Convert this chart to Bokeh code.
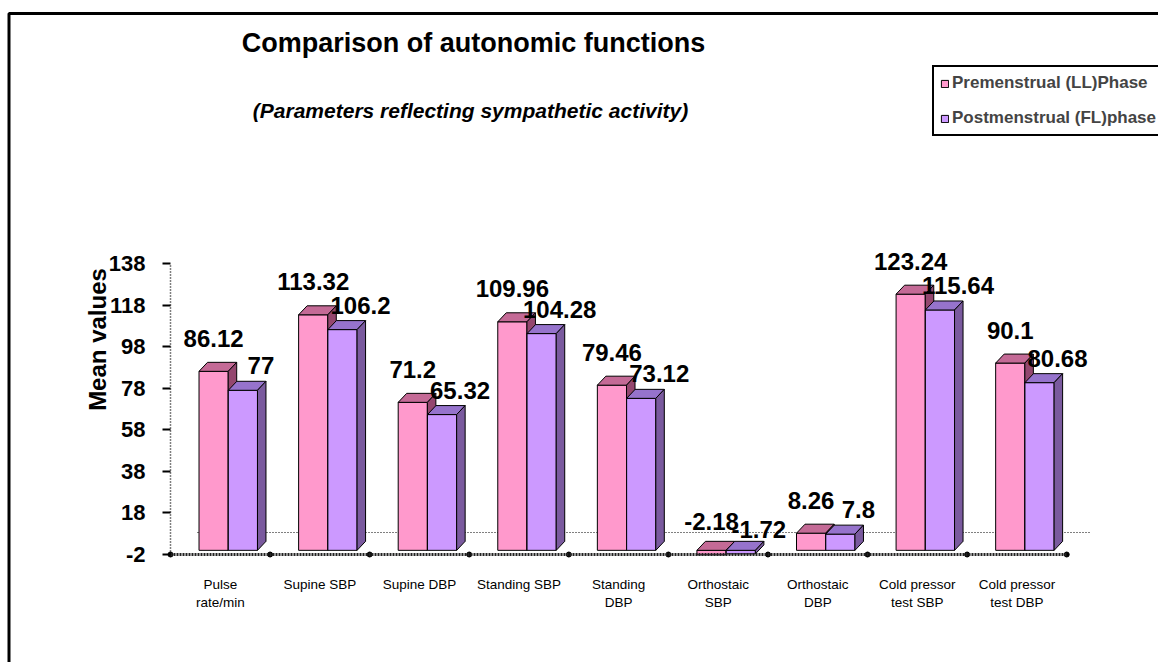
import math
from bokeh.plotting import figure
from bokeh.models import (Range1d, FixedTicker, Legend, LegendItem, Label,
                          BoxAnnotation)
from bokeh.core.properties import value
from bokeh.embed import file_html
from bokeh.resources import INLINE

# ---------------- data ----------------
categories = ["Pulse\nrate/min", "Supine SBP", "Supine DBP", "Standing SBP",
              "Standing\nDBP", "Orthostaic\nSBP", "Orthostaic\nDBP",
              "Cold pressor\ntest SBP", "Cold pressor\ntest DBP"]
premenstrual = [86.12, 113.32, 71.2, 109.96, 79.46, -2.18, 8.26, 123.24, 90.1]
postmenstrual = [77, 106.2, 65.32, 104.28, 73.12, -1.72, 7.8, 115.64, 80.68]
series_names = ["Premenstrual (LL)Phase", "Postmenstrual (FL)phase"]
y_ticks = [-2, 18, 38, 58, 78, 98, 118, 138]
title_text = "Comparison of autonomic functions"
subtitle_text = "(Parameters reflecting sympathetic activity)"
y_label_text = "Mean values"

# ---------------- layout / style ----------------
FONT = "Liberation Sans"
W, H = 1158, 662
PX_PER_X = 99.58          # pixels per category group
PX_PER_Y = 2.07857        # pixels per value unit
X0_PX, Y0_PX = 170, 554   # canvas position of data point (0, y_ticks[0])
Y_BASE = y_ticks[0]

X_START = -X0_PX / PX_PER_X
X_END = (W - X0_PX) / PX_PER_X
Y_START = Y_BASE - (H - Y0_PX) / PX_PER_Y
Y_END = Y_BASE + Y0_PX / PX_PER_Y


def page_x(px):
    return (px - X0_PX) / PX_PER_X


def page_y(py):
    return Y_BASE + (Y0_PX - py) / PX_PER_Y


BAR_W = 0.293
PINK_OFF, PURP_OFF = 0.433, 0.727
DX = 8.5 / PX_PER_X
DY = 9.0 / PX_PER_Y

PINK = dict(front="#FF99CC", top="#C46A96", side="#94476F")
PURP = dict(front="#CC99FF", top="#9673CC", side="#7A5A9E")

p = figure(width=W, height=H, x_range=Range1d(X_START, X_END),
           y_range=Range1d(Y_START, Y_END), output_backend="svg",
           toolbar_location=None, min_border=0)
p.outline_line_color = None
p.background_fill_color = "white"
p.border_fill_color = "white"
p.xgrid.visible = False
p.ygrid.visible = False

# outer frame of the chart area (left and top edges visible)
p.add_layout(BoxAnnotation(left=page_x(8.5), right=X_END + 5,
                           top=page_y(13), bottom=Y_START - 20,
                           fill_color=None, fill_alpha=0,
                           line_color="black", line_alpha=1, line_width=3))

# back floor dotted line
p.segment(x0=[page_x(197)], y0=[page_y(532)], x1=[page_x(1091)],
          y1=[page_y(532)], line_color="black", line_width=1,
          line_dash="1 2")


def draw_series(vals, off, col):
    xs_c = [i + off for i in range(len(vals))]
    tops = [max(v, 0) for v in vals]
    bots = [min(v, 0) for v in vals]
    r = p.vbar(x=xs_c, width=BAR_W, top=tops, bottom=bots,
               fill_color=col["front"], line_color="black", line_width=1)
    top_xs, top_ys, side_xs, side_ys = [], [], [], []
    for xc, t, b in zip(xs_c, tops, bots):
        x0, x1 = xc - BAR_W / 2, xc + BAR_W / 2
        top_xs.append([x0, x1, x1 + DX, x0 + DX])
        top_ys.append([t, t, t + DY, t + DY])
        side_xs.append([x1, x1, x1 + DX, x1 + DX])
        side_ys.append([b, t, t + DY, b + DY])
    p.patches(top_xs, top_ys, fill_color=col["top"], line_color="black",
              line_width=1)
    p.patches(side_xs, side_ys, fill_color=col["side"], line_color="black",
              line_width=1)
    return r, xs_c


r_pink, pink_x = draw_series(premenstrual, PINK_OFF, PINK)
r_purp, purp_x = draw_series(postmenstrual, PURP_OFF, PURP)

# group boundary dots on the floor
p.scatter(x=list(range(len(categories) + 1)),
          y=[Y_BASE] * (len(categories) + 1), size=5, color="black")

# value labels
p.text(x=pink_x, y=[v + 33 / PX_PER_Y for v in premenstrual],
       text=[f"{v:g}" for v in premenstrual], text_font=value(FONT),
       text_font_style="bold", text_font_size="24px", text_align="center",
       text_baseline="middle", text_color="black")
p.text(x=[x + 18 / PX_PER_X for x in purp_x],
       y=[v + 24.5 / PX_PER_Y for v in postmenstrual],
       text=[f"{v:g}" for v in postmenstrual], text_font=value(FONT),
       text_font_style="bold", text_font_size="24px", text_align="center",
       text_baseline="middle", text_color="black")

# y axis
ya = p.yaxis[0]
ya.fixed_location = 0
ya.ticker = FixedTicker(ticks=y_ticks)
ya.major_label_overrides = {t: str(t) for t in y_ticks}
ya.bounds = (y_ticks[0], y_ticks[-1])
ya.minor_tick_line_color = None
ya.major_tick_in = 0
ya.major_tick_out = 8
ya.major_tick_line_width = 2
ya.major_tick_line_color = "black"
ya.axis_line_color = "black"
ya.axis_line_dash = "1 2"
ya.axis_line_width = 1.5
ya.major_label_standoff = 17
ya.major_label_text_font = FONT
ya.major_label_text_font_style = "bold"
ya.major_label_text_font_size = "22px"
ya.major_label_text_color = "black"

# x axis (category labels at group centres)
xa = p.xaxis[0]
xa.fixed_location = Y_BASE
centres = [i + 0.5 for i in range(len(categories))]
xa.ticker = FixedTicker(ticks=centres)
xa.major_label_overrides = {c: lab for c, lab in zip(centres, categories)}
xa.bounds = (0, len(categories))
xa.minor_tick_line_color = None
xa.major_tick_in = 0
xa.major_tick_out = 0
xa.axis_line_color = "#222222"
xa.axis_line_width = 3
xa.axis_line_dash = "2 1"
xa.major_label_standoff = 22
xa.major_label_text_font = FONT
xa.major_label_text_font_size = "13.5px"
xa.major_label_text_color = "black"

# titles
p.add_layout(Label(x=page_x(473), y=page_y(42), text=title_text,
                   text_font=FONT, text_font_style="bold",
                   text_font_size="27px", text_align="center",
                   text_baseline="middle", text_color="black"))
p.add_layout(Label(x=page_x(470), y=page_y(110), text=subtitle_text,
                   text_font=FONT, text_font_style="bold italic",
                   text_font_size="21px", text_align="center",
                   text_baseline="middle", text_color="black"))
p.add_layout(Label(x=page_x(97), y=page_y(339), text=y_label_text,
                   angle=math.pi / 2, text_font=FONT, text_font_style="bold",
                   text_font_size="24px", text_align="center",
                   text_baseline="middle", text_color="black"))

# legend
legend = Legend(items=[LegendItem(label=series_names[0], renderers=[r_pink]),
                       LegendItem(label=series_names[1], renderers=[r_purp])],
                location=(932, H - 136), orientation="vertical",
                glyph_width=9, glyph_height=9, label_text_font=FONT,
                label_text_font_style="bold", label_text_font_size="17px",
                label_standoff=3, padding=6, spacing=15, label_height=20,
                border_line_color="black", border_line_alpha=1,
                border_line_width=2,
                background_fill_color="white", background_fill_alpha=1,
                margin=0)
p.add_layout(legend)

open("out.html", "w").write(file_html(p, INLINE))
